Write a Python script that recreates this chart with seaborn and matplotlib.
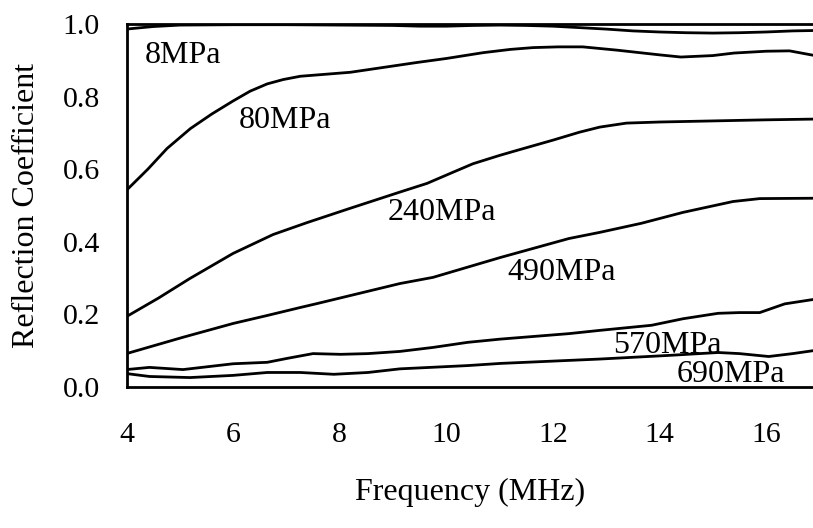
import matplotlib
matplotlib.use("Agg")
import matplotlib.pyplot as plt
import seaborn as sns
import pandas as pd
import numpy as np

# ---- data ----
x_8 = [4, 4.5, 5, 6, 7, 8, 9, 9.5, 10, 10.5, 11, 11.5, 12, 12.5, 13, 13.5, 14, 14.5, 15, 15.5, 16, 16.5, 16.88]
y_8 = [0.986, 0.993, 0.997, 0.998, 0.998, 0.997, 0.996, 0.994, 0.994, 0.996, 0.997, 0.996, 0.994, 0.990,
       0.986, 0.981, 0.978, 0.976, 0.975, 0.976, 0.978, 0.981, 0.982]

x_80 = [4, 4.4, 4.76, 5.2, 5.6, 6.0, 6.32, 6.64, 6.94, 7.26, 8.2, 9.45, 10.0, 10.69, 11.2, 11.63, 12.1,
        12.56, 13.2, 14.0, 14.4, 15.0, 15.4, 16.0, 16.44, 16.88]
y_80 = [0.542, 0.600, 0.657, 0.712, 0.752, 0.788, 0.815, 0.835, 0.847, 0.856, 0.867, 0.894, 0.905, 0.921,
        0.930, 0.935, 0.937, 0.937, 0.928, 0.915, 0.909, 0.913, 0.920, 0.925, 0.926, 0.914]

x_240 = [4, 4.6, 5.19, 6.0, 6.75, 7.39, 8.19, 9.13, 9.64, 10.1, 10.5, 11.0, 11.33, 12.0, 12.5, 12.88,
         13.38, 14.0, 15.0, 16.0, 16.88]
y_240 = [0.194, 0.245, 0.299, 0.368, 0.420, 0.453, 0.492, 0.537, 0.561, 0.590, 0.615, 0.638, 0.652, 0.680,
         0.702, 0.716, 0.727, 0.730, 0.733, 0.736, 0.738]

x_490 = [4, 5.06, 6.0, 6.64, 7.26, 7.58, 9.13, 9.75, 11.02, 12.3, 12.88, 13.66, 14.44, 15.38, 15.88, 16.88]
y_490 = [0.092, 0.137, 0.175, 0.197, 0.219, 0.230, 0.285, 0.302, 0.357, 0.409, 0.426, 0.451, 0.481, 0.511,
         0.519, 0.520]

x_570 = [4, 4.43, 5.06, 6.0, 6.64, 7.02, 7.5, 8.02, 8.53, 9.13, 9.75, 10.4, 11.02, 12.3, 12.88, 13.85,
         14.44, 15.1, 15.5, 15.88, 16.35, 16.88]
y_570 = [0.048, 0.054, 0.048, 0.064, 0.068, 0.079, 0.092, 0.090, 0.092, 0.098, 0.109, 0.123, 0.132, 0.147,
         0.156, 0.170, 0.188, 0.203, 0.205, 0.205, 0.229, 0.241]

x_690 = [4, 4.43, 5.19, 6.0, 6.64, 7.26, 7.89, 8.53, 9.13, 10.4, 11.02, 12.88, 14.17, 15.1, 15.5, 16.05,
         16.5, 16.88]
y_690 = [0.037, 0.029, 0.026, 0.032, 0.040, 0.040, 0.035, 0.040, 0.050, 0.059, 0.065, 0.077, 0.087, 0.095,
         0.092, 0.084, 0.092, 0.100]

series_names = ["8MPa", "80MPa", "240MPa", "490MPa", "570MPa", "690MPa"]
series_x = [x_8, x_80, x_240, x_490, x_570, x_690]
series_y = [y_8, y_80, y_240, y_490, y_570, y_690]

# label anchors (left, baseline) in data coordinates
label_x = [4.35, 6.11, 8.89, 11.14, 13.13, 14.33]
label_y = [0.893, 0.713, 0.460, 0.295, 0.094, 0.014]

x_ticks = [4, 6, 8, 10, 12, 14, 16]
y_ticks = [0.0, 0.2, 0.4, 0.6, 0.8, 1.0]
y_tick_labels = ["0.0", "0.2", "0.4", "0.6", "0.8", "1.0"]

# ---- build long-format table ----
frames = []
for name, xs, ys in zip(series_names, series_x, series_y):
    frames.append(pd.DataFrame({"Frequency": xs, "R": ys, "series": name}))
df = pd.concat(frames, ignore_index=True)

sns.set_theme(style="white")
plt.rcParams["font.family"] = ["Liberation Serif", "DejaVu Serif"]

fig = plt.figure(figsize=(8.13, 5.28), dpi=100)
ax = fig.add_axes([126.5 / 813, (528 - 387) / 528, (813 - 126.5) / 813, (387 - 24) / 528])

sns.lineplot(data=df, x="Frequency", y="R", hue="series",
             palette=["black"] * len(series_names), linewidth=2.0, legend=False,
             sort=False, estimator=None, ax=ax)

for name, lx, ly in zip(series_names, label_x, label_y):
    ax.text(lx, ly, name, fontsize=23, ha="left", va="baseline", color="black")

ax.set_xlim(4, 16.88)
ax.set_ylim(0, 1.0)
ax.set_xticks(x_ticks)
ax.set_yticks(y_ticks)
ax.set_yticklabels(y_tick_labels)

for side in ["left", "bottom", "top"]:
    ax.spines[side].set_visible(True)
    ax.spines[side].set_color("black")
    ax.spines[side].set_linewidth(2.0)
ax.spines["right"].set_visible(False)

ax.tick_params(axis="both", which="major", direction="out", length=8, width=1.8,
               color="black", labelsize=21.5, labelcolor="black")
ax.tick_params(axis="x", pad=17, top=False)
ax.tick_params(axis="y", pad=11, right=False)

ax.set_xlabel("Frequency (MHz)", fontsize=23, labelpad=22, color="black")
ax.set_ylabel("Reflection Coefficient", fontsize=23, labelpad=16, color="black")
ax.grid(False)

fig.savefig("out.png", dpi=100)
